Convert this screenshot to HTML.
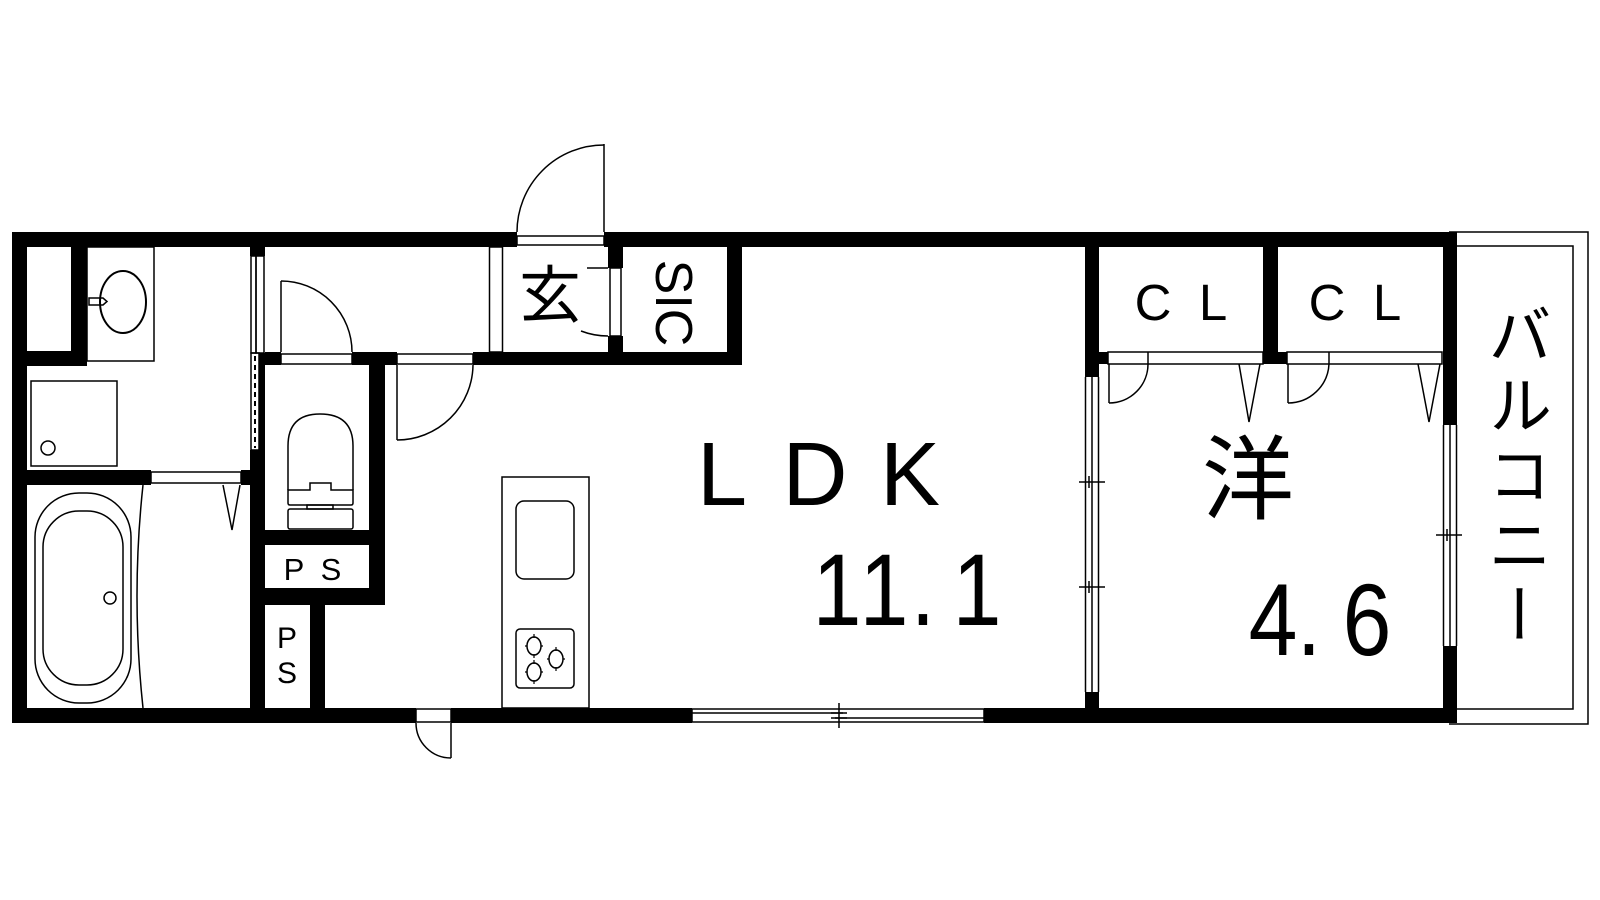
<!DOCTYPE html>
<html><head><meta charset="utf-8"><style>
html,body{margin:0;padding:0;background:#fff;}
#w{position:relative;width:1600px;height:900px;overflow:hidden;}
svg{position:absolute;left:0;top:0;}
.v{position:absolute;writing-mode:vertical-rl;font-family:"Liberation Sans","Noto Sans CJK JP",sans-serif;font-size:64px;letter-spacing:6px;line-height:1;color:#000;}
</style></head><body><div id="w">
<svg width="1600" height="900" viewBox="0 0 1600 900" xmlns="http://www.w3.org/2000/svg">
<g fill="#000" stroke="none">
<rect x="12" y="232" width="505" height="15"/>
<rect x="604" y="232" width="853" height="15"/>
<rect x="12" y="232" width="15" height="491"/>
<rect x="12" y="708" width="404" height="15"/>
<rect x="451" y="708" width="241" height="15"/>
<rect x="984" y="708" width="473" height="15"/>
<rect x="71" y="247" width="16" height="119"/>
<rect x="27" y="351" width="60" height="15"/>
<rect x="27" y="470" width="124" height="15"/>
<rect x="241" y="470" width="12" height="15"/>
<rect x="250" y="247" width="15" height="9"/>
<rect x="259" y="353" width="6" height="97"/>
<rect x="250" y="450" width="15" height="273"/>
<rect x="265" y="352" width="16" height="13"/>
<rect x="352" y="352" width="45" height="13"/>
<rect x="473" y="352" width="269" height="13"/>
<rect x="369" y="352" width="16" height="253"/>
<rect x="265" y="530" width="120" height="15"/>
<rect x="265" y="588" width="120" height="17"/>
<rect x="310" y="605" width="15" height="103"/>
<rect x="608" y="247" width="15" height="21"/>
<rect x="608" y="336" width="15" height="20"/>
<rect x="727" y="247" width="15" height="118"/>
<rect x="1085" y="247" width="14" height="130"/>
<rect x="1099" y="352" width="9" height="12"/>
<rect x="1085" y="692" width="14" height="20"/>
<rect x="1263" y="247" width="15" height="117"/>
<rect x="1278" y="352" width="9" height="12"/>
<rect x="1443" y="247" width="14" height="178"/>
<rect x="1443" y="646" width="14" height="70"/>
</g>
<g fill="none" stroke="#000" stroke-width="1.5">
<rect x="517" y="236" width="87" height="9"/>
<line x1="604" y1="144" x2="604" y2="232"/>
<path d="M517 232 A87 87 0 0 1 604 145"/>
<rect x="489.5" y="247" width="13" height="105"/>
<rect x="610" y="268" width="11" height="68"/>
<line x1="587" y1="268" x2="608" y2="268"/>
<path d="M581 331 Q594 336 608 336"/>
<rect x="251" y="256" width="5" height="97"/>
<rect x="256" y="256" width="8" height="97"/>
<rect x="251" y="353" width="8" height="97"/>
<line x1="255" y1="356" x2="255" y2="448" stroke-dasharray="5,4" stroke-width="2"/>
<rect x="87" y="247" width="67" height="114"/>
<ellipse cx="123" cy="302" rx="23" ry="31" stroke-width="2"/>
<path d="M89 298 H103 L107 301.5 L103 305 H89 Z"/>
<rect x="31" y="381" width="86" height="85"/>
<circle cx="48" cy="448" r="7"/>
<rect x="151" y="472" width="90" height="11"/>
<path d="M223 485 L232 530 L240 485"/>
<rect x="35" y="493" width="96" height="210" rx="44" ry="44"/>
<rect x="43" y="511" width="80" height="174" rx="36" ry="36"/>
<circle cx="110" cy="598" r="6"/>
<path d="M143 485 Q131 596 143 708"/>
<rect x="281" y="354" width="71" height="10"/>
<line x1="281" y1="352" x2="281" y2="281"/>
<path d="M281 281 A71 71 0 0 1 352 352"/>
<path d="M288 490 V446 Q288 414 320 414 Q353 414 353 446 V490"/>
<path d="M288 490 V503 Q288 505 290 505 H351 Q353 505 353 503 V490 H331 V483 H310 V490 Z"/>
<rect x="307" y="505" width="26" height="4"/>
<rect x="288" y="509" width="65" height="20" rx="2"/>
<rect x="397" y="354" width="76" height="10"/>
<line x1="397" y1="365" x2="397" y2="440"/>
<path d="M397 440 A76 76 0 0 0 473 365"/>
<rect x="502" y="477" width="87" height="231"/>
<rect x="516" y="501" width="58" height="78" rx="8"/>
<rect x="516" y="629" width="58" height="59" rx="4"/>
<ellipse cx="534" cy="646" rx="7" ry="9"/>
<ellipse cx="556" cy="659" rx="7" ry="9"/>
<ellipse cx="534" cy="672" rx="7" ry="9"/>
<path d="M534 634v4M534 654v4M525 646h2M541 646h2M556 647v4M556 667v4M547 659h2M563 659h2M534 660v4M534 680v4M525 672h2M541 672h2" stroke-width="1.2"/>
<rect x="416" y="709" width="35" height="13"/>
<line x1="451" y1="723" x2="451" y2="758"/>
<path d="M416 723 A35 35 0 0 0 451 758"/>
<rect x="692" y="709" width="292" height="13"/>
<line x1="692" y1="713" x2="843" y2="713"/>
<line x1="835" y1="718" x2="984" y2="718"/>
<line x1="839" y1="703" x2="839" y2="728"/>
<line x1="831" y1="713" x2="847" y2="713"/>
<line x1="831" y1="718" x2="847" y2="718"/>
<line x1="1085.5" y1="377" x2="1085.5" y2="692"/>
<line x1="1092" y1="377" x2="1092" y2="692"/>
<line x1="1098.5" y1="377" x2="1098.5" y2="692"/>
<line x1="1079" y1="482" x2="1105" y2="482"/>
<line x1="1079" y1="587" x2="1105" y2="587"/>
<line x1="1089" y1="476" x2="1089" y2="488"/>
<line x1="1089" y1="581" x2="1089" y2="593"/>
<rect x="1108" y="352" width="155" height="12"/>
<rect x="1287" y="352" width="155" height="12"/>
<line x1="1148" y1="352" x2="1148" y2="364"/>
<line x1="1329" y1="352" x2="1329" y2="364"/>
<line x1="1109" y1="364" x2="1109" y2="403"/>
<path d="M1109 403 A39 39 0 0 0 1148 364"/>
<path d="M1239 364 L1249 422 L1260 364"/>
<line x1="1288" y1="364" x2="1288" y2="403"/>
<path d="M1288 403 A41 41 0 0 0 1329 364"/>
<path d="M1418 364 L1429 422 L1440 364"/>
<line x1="1443.5" y1="425" x2="1443.5" y2="646"/>
<line x1="1450" y1="425" x2="1450" y2="646"/>
<line x1="1456.5" y1="425" x2="1456.5" y2="646"/>
<line x1="1436" y1="535" x2="1462" y2="535"/>
<line x1="1447" y1="529" x2="1447" y2="541"/>
<path d="M1449 232 H1588 V724 H1449"/>
<path d="M1457 246 H1573 V709 H1457"/>
</g>
<g font-family="Liberation Sans, Noto Sans CJK JP, sans-serif" fill="#000" text-anchor="middle">
<text x="722" y="505" font-size="90">L</text>
<text x="815" y="505" font-size="90">D</text>
<text x="910" y="505" font-size="90">K</text>
<text transform="translate(837 625) scale(0.86 1)" font-size="102">1</text>
<text transform="translate(884 625) scale(0.86 1)" font-size="102">1</text>
<text transform="translate(923 625) scale(0.86 1)" font-size="102">.</text>
<text transform="translate(977 625) scale(0.86 1)" font-size="102">1</text>
<text transform="translate(1273 655) scale(0.86 1)" font-size="102">4</text>
<text transform="translate(1309 655) scale(0.86 1)" font-size="102">.</text>
<text transform="translate(1367 655) scale(0.86 1)" font-size="102">6</text>
<text x="1248" y="512" font-size="92" font-family="Noto Sans CJK JP, sans-serif">洋</text>
<text x="1153" y="320" font-size="51">C</text>
<text x="1213" y="320" font-size="51">L</text>
<text x="1327" y="320" font-size="51">C</text>
<text x="1387" y="320" font-size="51">L</text>
<text x="294" y="580" font-size="31">P</text>
<text x="331" y="580" font-size="31">S</text>
<text x="287" y="648" font-size="30">P</text>
<text x="287" y="683" font-size="30">S</text>
<text x="550" y="317" font-size="62" font-family="Noto Sans CJK JP, sans-serif">玄</text>
<text x="0" y="0" font-size="52" transform="translate(656 303) rotate(90)">SIC</text>
</g>
</svg>
<div class="v" style="left:1483px;top:302px;">バルコニー</div>
</div></body></html>
